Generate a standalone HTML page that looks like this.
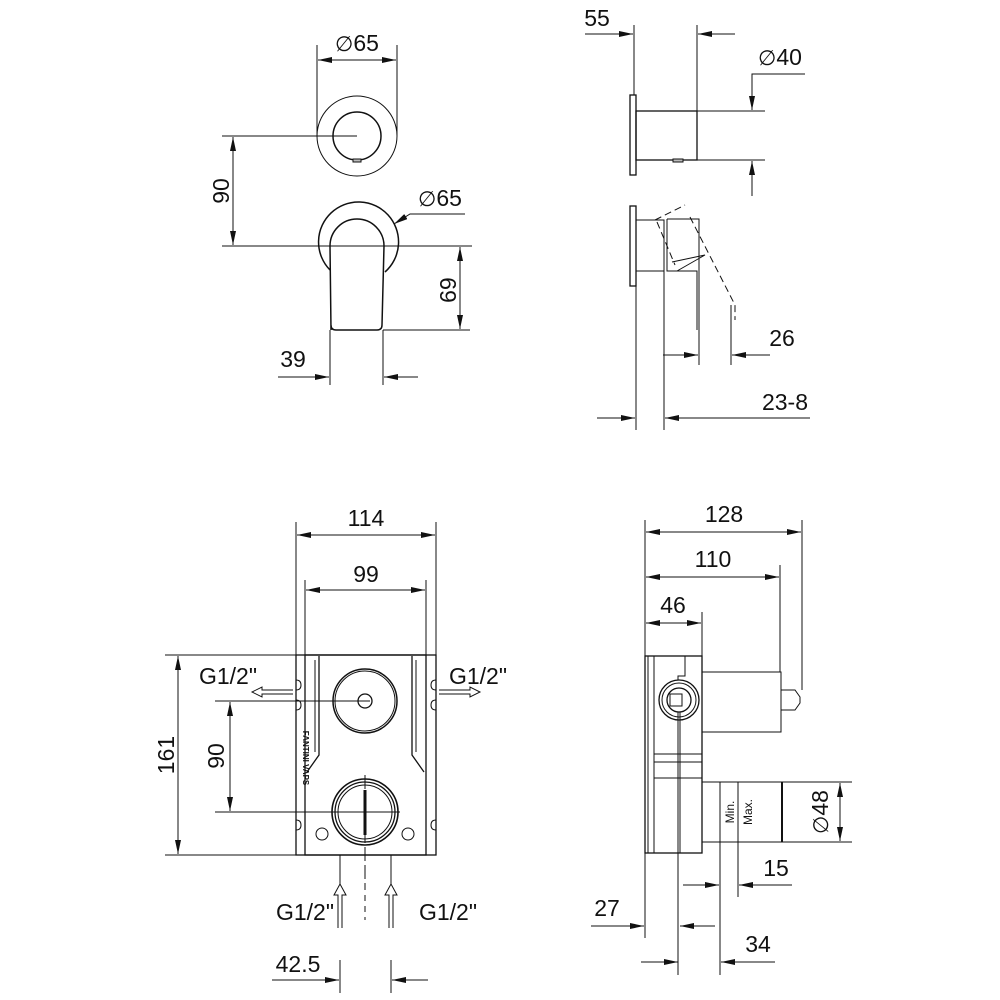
<!DOCTYPE html>
<html><head><meta charset="utf-8"><style>
html,body{margin:0;padding:0;background:#fff}
svg{display:block}
text{font-family:"Liberation Sans",Arial,sans-serif;font-size:23px;fill:#111}
.d{font-family:"DejaVu Sans","Liberation Sans",sans-serif;font-size:21px}
</style></head><body>
<svg width="1000" height="1000" viewBox="0 0 1000 1000" xmlns="http://www.w3.org/2000/svg">
<defs>
<marker id="a" viewBox="0 0 14 6" refX="14" refY="3" markerWidth="14" markerHeight="6" orient="auto" markerUnits="userSpaceOnUse"><path d="M0,0L14,3L0,6z" fill="#111"/></marker>
</defs>
<g stroke="#111" stroke-width="1" fill="none">
<line x1="317" y1="45" x2="317" y2="136"/><line x1="397" y1="45" x2="397" y2="136"/>
<line x1="357" y1="60" x2="318" y2="60" marker-end="url(#a)"/><line x1="357" y1="60" x2="396" y2="60" marker-end="url(#a)"/>
<circle cx="357" cy="136" r="40"/><circle cx="357" cy="136" r="24" stroke-width="1.5"/>
<rect x="353" y="159" width="8" height="3" fill="#bbb"/>
<line x1="222" y1="136" x2="357" y2="136"/>
<line x1="222" y1="246" x2="472" y2="246"/>
<line x1="233" y1="190" x2="233" y2="137" marker-end="url(#a)"/><line x1="233" y1="190" x2="233" y2="245" marker-end="url(#a)"/>
<path d="M330,270 A40,40 0 1 1 385,272" stroke-width="1.5"/>
<path d="M331,330 L330,246 A27,27 0 0 1 384,246 L382,325 Q382,330 377,330 L336,330 Q331,330 331,325" stroke-width="1.5"/>
<line x1="383" y1="330" x2="470" y2="330"/>
<line x1="460" y1="290" x2="460" y2="247" marker-end="url(#a)"/><line x1="460" y1="290" x2="460" y2="329" marker-end="url(#a)"/>
<path d="M465,214 L410,214 L394,224" marker-end="url(#a)"/>
<line x1="330" y1="330" x2="330" y2="385"/><line x1="383" y1="330" x2="383" y2="385"/>
<line x1="278" y1="377" x2="329" y2="377" marker-end="url(#a)"/><line x1="418" y1="377" x2="384" y2="377" marker-end="url(#a)"/>
<line x1="634" y1="25" x2="634" y2="95"/><line x1="697" y1="25" x2="697" y2="111"/>
<line x1="585" y1="34" x2="633" y2="34" marker-end="url(#a)"/><line x1="735" y1="34" x2="698" y2="34" marker-end="url(#a)"/>
<rect x="630" y="95" width="6" height="80" stroke-width="1.3"/>
<rect x="636" y="111" width="61" height="49" stroke-width="1.3"/>
<line x1="697" y1="111" x2="765" y2="111"/><line x1="697" y1="160" x2="765" y2="160"/>
<rect x="673" y="159" width="10" height="3" fill="#bbb"/>
<path d="M805,74 L752,74 L752,110" marker-end="url(#a)"/>
<line x1="752" y1="196" x2="752" y2="161" marker-end="url(#a)"/>
<rect x="630" y="206" width="6" height="80" stroke-width="1.3"/>
<path d="M636,220 L664,220 L664,271 L636,271"/>
<path d="M667,219 L699,219 L699,330"/>
<path d="M667,219 L667,271 L697,271 L697,330" />
<path d="M677,271 L705,255 L672,262" />
<path d="M655,220 L685,205 M657,222 L675,265 M690,217 L735,305 L735,320" stroke-dasharray="7,4"/>
<line x1="664" y1="271" x2="664" y2="430"/><line x1="636" y1="286" x2="636" y2="430"/>
<line x1="699" y1="330" x2="699" y2="365"/><line x1="731" y1="305" x2="731" y2="365"/>
<line x1="663" y1="355" x2="698" y2="355" marker-end="url(#a)"/><line x1="770" y1="355" x2="732" y2="355" marker-end="url(#a)"/>
<line x1="597" y1="418" x2="635" y2="418" marker-end="url(#a)"/><line x1="810" y1="418" x2="665" y2="418" marker-end="url(#a)"/>
<line x1="296" y1="522" x2="296" y2="655"/><line x1="436" y1="522" x2="436" y2="655"/>
<line x1="366" y1="535" x2="297" y2="535" marker-end="url(#a)"/><line x1="366" y1="535" x2="435" y2="535" marker-end="url(#a)"/>
<line x1="305" y1="580" x2="305" y2="655"/><line x1="426" y1="580" x2="426" y2="655"/>
<line x1="366" y1="590" x2="306" y2="590" marker-end="url(#a)"/><line x1="366" y1="590" x2="425" y2="590" marker-end="url(#a)"/>
<rect x="296" y="655" width="140" height="200" stroke-width="1.3"/>
<rect x="305" y="655" width="121" height="200" stroke-width="1.3"/>
<path d="M319,656 L319,755 L307,772 M412,656 L412,755 L424,772" stroke-width="1.3"/>
<path d="M315,660 L315,752 M416,660 L416,752"/>
<path d="M296,680 q5,0 5,5 q0,5 -5,5 M296,700 q5,0 5,5 q0,5 -5,5 M436,680 q-5,0 -5,5 q0,5 5,5 M436,700 q-5,0 -5,5 q0,5 5,5 M296,820 q5,0 5,5 q0,5 -5,5 M436,820 q-5,0 -5,5 q0,5 5,5"/>
<circle cx="365" cy="701" r="32" stroke-width="1.5"/><circle cx="365" cy="701" r="30"/><circle cx="365" cy="701" r="7" stroke-width="1.3"/>
<circle cx="365" cy="812" r="33" stroke-width="1.6"/><circle cx="365" cy="812" r="30" stroke-width="1.3"/><circle cx="365" cy="812" r="27"/>
<line x1="365" y1="790" x2="365" y2="835" stroke-width="3"/>
<circle cx="322" cy="834" r="6"/><circle cx="408" cy="834" r="6"/>
<line x1="165" y1="655" x2="296" y2="655"/><line x1="165" y1="855" x2="296" y2="855"/>
<line x1="178" y1="755" x2="178" y2="656" marker-end="url(#a)"/><line x1="178" y1="755" x2="178" y2="854" marker-end="url(#a)"/>
<line x1="215" y1="701" x2="370" y2="701"/><line x1="215" y1="812" x2="400" y2="812"/>
<line x1="230" y1="756" x2="230" y2="702" marker-end="url(#a)"/><line x1="230" y1="756" x2="230" y2="811" marker-end="url(#a)"/>
<line x1="365" y1="775" x2="365" y2="890" stroke-dasharray="14,4"/>
<path d="M293,690 L262,690 L262,687 L252,692 L262,697 L262,694 L293,694"/>
<path d="M439,690 L470,690 L470,687 L480,692 L470,697 L470,694 L439,694"/>
<line x1="340" y1="855" x2="340" y2="885"/><line x1="391" y1="855" x2="391" y2="885"/>
<path d="M338,928 L338,895 L334,895 L340,884 L346,895 L342,895 L342,928"/>
<path d="M389,928 L389,895 L385,895 L391,884 L397,895 L393,895 L393,928"/>
<line x1="365" y1="895" x2="365" y2="920" stroke-dasharray="6,5"/>
<line x1="340" y1="960" x2="340" y2="993"/><line x1="391" y1="960" x2="391" y2="993"/>
<line x1="272" y1="980" x2="339" y2="980" marker-end="url(#a)"/><line x1="428" y1="980" x2="392" y2="980" marker-end="url(#a)"/>
<line x1="645" y1="520" x2="645" y2="938"/>
<line x1="802" y1="520" x2="802" y2="690"/>
<line x1="720" y1="532" x2="646" y2="532" marker-end="url(#a)"/><line x1="720" y1="532" x2="801" y2="532" marker-end="url(#a)"/>
<line x1="780" y1="565" x2="780" y2="672"/>
<line x1="710" y1="577" x2="646" y2="577" marker-end="url(#a)"/><line x1="710" y1="577" x2="779" y2="577" marker-end="url(#a)"/>
<line x1="702" y1="612" x2="702" y2="656"/>
<line x1="673" y1="623" x2="646" y2="623" marker-end="url(#a)"/><line x1="673" y1="623" x2="701" y2="623" marker-end="url(#a)"/>
<rect x="645" y="656" width="57" height="197" stroke-width="1.3"/>
<line x1="648" y1="656" x2="648" y2="853"/><line x1="654" y1="656" x2="654" y2="853"/>
<path d="M685,656 L685,676 L678,676 L678,680"/>
<circle cx="679" cy="700" r="20" stroke-width="1.3"/><circle cx="679" cy="700" r="17"/><circle cx="679" cy="700" r="12" stroke-width="1.3"/>
<rect x="670" y="694" width="12" height="12"/>
<line x1="678" y1="712" x2="678" y2="975"/><line x1="680" y1="712" x2="680" y2="853"/>
<line x1="654" y1="754" x2="702" y2="754"/><line x1="654" y1="762" x2="702" y2="762"/><line x1="654" y1="778" x2="702" y2="778"/>
<rect x="702" y="672" width="79" height="60"/>
<path d="M781,690 L795,690 L800,697 L800,703 L795,710 L781,710"/>
<path d="M702,782 L782,782 M702,842 L782,842"/>
<line x1="782" y1="782" x2="782" y2="842" stroke-width="2"/>
<line x1="782" y1="782" x2="852" y2="782"/><line x1="782" y1="842" x2="852" y2="842"/>
<line x1="840" y1="812" x2="840" y2="783" marker-end="url(#a)"/><line x1="840" y1="812" x2="840" y2="841" marker-end="url(#a)"/>
<line x1="720" y1="782" x2="720" y2="975"/><line x1="738" y1="782" x2="738" y2="897"/>
<line x1="683" y1="885" x2="719" y2="885" marker-end="url(#a)"/><line x1="792" y1="885" x2="739" y2="885" marker-end="url(#a)"/>
<line x1="591" y1="926" x2="644" y2="926" marker-end="url(#a)"/><line x1="715" y1="926" x2="680" y2="926" marker-end="url(#a)"/>
<line x1="641" y1="962" x2="678" y2="962" marker-end="url(#a)"/><line x1="775" y1="962" x2="721" y2="962" marker-end="url(#a)"/>
</g>
<text x="357" y="51" text-anchor="middle"><tspan class="d">∅</tspan>65</text>
<text x="221" y="191" text-anchor="middle" transform="rotate(-90 221 191)" dy="8">90</text>
<text x="440" y="206" text-anchor="middle"><tspan class="d">∅</tspan>65</text>
<text x="448" y="290" text-anchor="middle" transform="rotate(90 448 290)" dy="8">69</text>
<text x="293" y="367" text-anchor="middle">39</text>
<text x="597" y="26" text-anchor="middle">55</text>
<text x="780" y="65" text-anchor="middle"><tspan class="d">∅</tspan>40</text>
<text x="782" y="346" text-anchor="middle">26</text>
<text x="785" y="410" text-anchor="middle">23-8</text>
<text x="366" y="526" text-anchor="middle">114</text>
<text x="366" y="582" text-anchor="middle">99</text>
<text x="228" y="684" text-anchor="middle">G1/2"</text>
<text x="478" y="684" text-anchor="middle">G1/2"</text>
<text x="166" y="755" text-anchor="middle" transform="rotate(-90 166 755)" dy="8">161</text>
<text x="216" y="756" text-anchor="middle" transform="rotate(-90 216 756)" dy="8">90</text>
<text x="303" y="758" text-anchor="middle" transform="rotate(90 303 758)" style="font-size:8px;font-weight:bold">FANTINI VAPS</text>
<text x="305" y="920" text-anchor="middle">G1/2"</text>
<text x="448" y="920" text-anchor="middle">G1/2"</text>
<text x="298" y="972" text-anchor="middle">42.5</text>
<text x="724" y="522" text-anchor="middle">128</text>
<text x="713" y="567" text-anchor="middle">110</text>
<text x="673" y="613" text-anchor="middle">46</text>
<text x="729" y="812" text-anchor="middle" transform="rotate(-90 729 812)" dy="5" style="font-size:12px">Min.</text>
<text x="747" y="812" text-anchor="middle" transform="rotate(-90 747 812)" dy="5" style="font-size:12px">Max.</text>
<text x="820" y="812" text-anchor="middle" transform="rotate(-90 820 812)" dy="8"><tspan class="d">∅</tspan>48</text>
<text x="776" y="876" text-anchor="middle">15</text>
<text x="607" y="916" text-anchor="middle">27</text>
<text x="758" y="952" text-anchor="middle">34</text>
</svg>
</body></html>
